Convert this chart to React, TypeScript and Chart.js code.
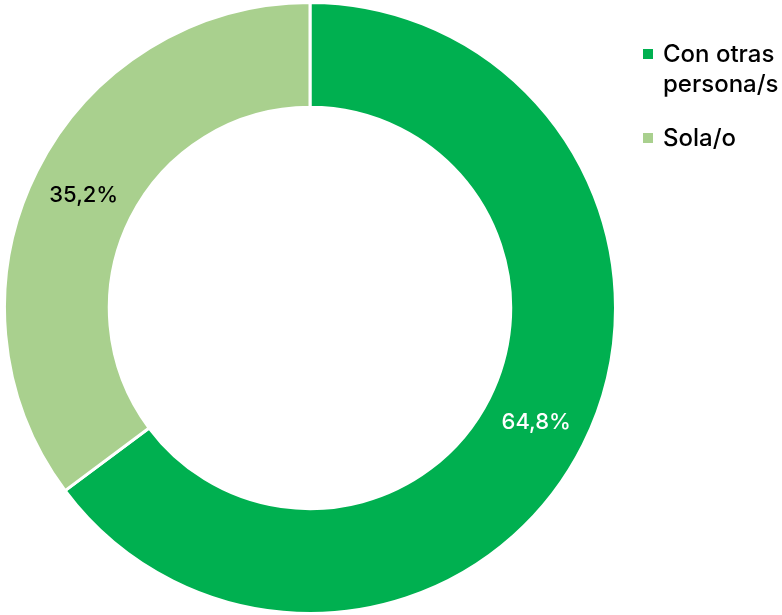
import React, { useEffect, useRef } from "react";
import { Chart, registerables } from "chart.js";

Chart.register(...registerables);

const categories: string[][] = [["Con otras", "persona/s"], ["Sola/o"]];
const values: number[] = [64.8, 35.2];
const valueLabels: string[] = ["64,8%", "35,2%"];
const colors: string[] = ["#00B050", "#A9D08E"];
const labelColors: string[] = ["#FFFFFF", "#000000"];

const FONT = 'Inter, "Liberation Sans", Arial, sans-serif';

const labelPlugin = {
  id: "customLabels",
  afterDraw(chart: any) {
    const ctx = chart.ctx;
    const meta = chart.getDatasetMeta(0);
    ctx.save();
    ctx.font = `500 22px ${FONT}`;
    ctx.textAlign = "center";
    ctx.textBaseline = "middle";
    meta.data.forEach((arc: any, i: number) => {
      const p = arc.tooltipPosition();
      ctx.fillStyle = labelColors[i];
      ctx.fillText(valueLabels[i], p.x, p.y + 1);
    });
    // legend
    ctx.font = `500 24px ${FONT}`;
    ctx.textAlign = "left";
    ctx.textBaseline = "alphabetic";
    const legendX = 643;
    const textX = 663;
    const starts = [62, 146];
    categories.forEach((lines, i) => {
      const base = starts[i];
      ctx.fillStyle = colors[i];
      ctx.fillRect(legendX, base - 13, 10, 10);
      ctx.fillStyle = "#000000";
      lines.forEach((line, j) => {
        ctx.fillText(line, textX, base + j * 30);
      });
    });
    ctx.restore();
  },
};

export default function App() {
  const ref = useRef<HTMLCanvasElement | null>(null);
  useEffect(() => {
    if (!ref.current) return;
    const chart = new Chart(ref.current, {
      type: "doughnut",
      data: {
        labels: categories.map((c) => c.join(" ")),
        datasets: [
          {
            data: values,
            backgroundColor: colors,
            borderColor: "#FFFFFF",
            borderWidth: 3,
          },
        ],
      },
      options: {
        animation: false,
        responsive: false,
        cutout: "65.7%",
        rotation: 0,
        layout: { padding: { left: 3, top: 1, right: 165, bottom: 0 } },
        plugins: {
          legend: { display: false },
          tooltip: { enabled: false },
        },
      },
      plugins: [labelPlugin],
    });
    return () => chart.destroy();
  }, []);
  return (
    <div style={{ position: "absolute", left: 0, top: 0, width: 782, height: 615, background: "#fff" }}>
      <canvas ref={ref} width={782} height={615} style={{ width: 782, height: 615 }} />
    </div>
  );
}
